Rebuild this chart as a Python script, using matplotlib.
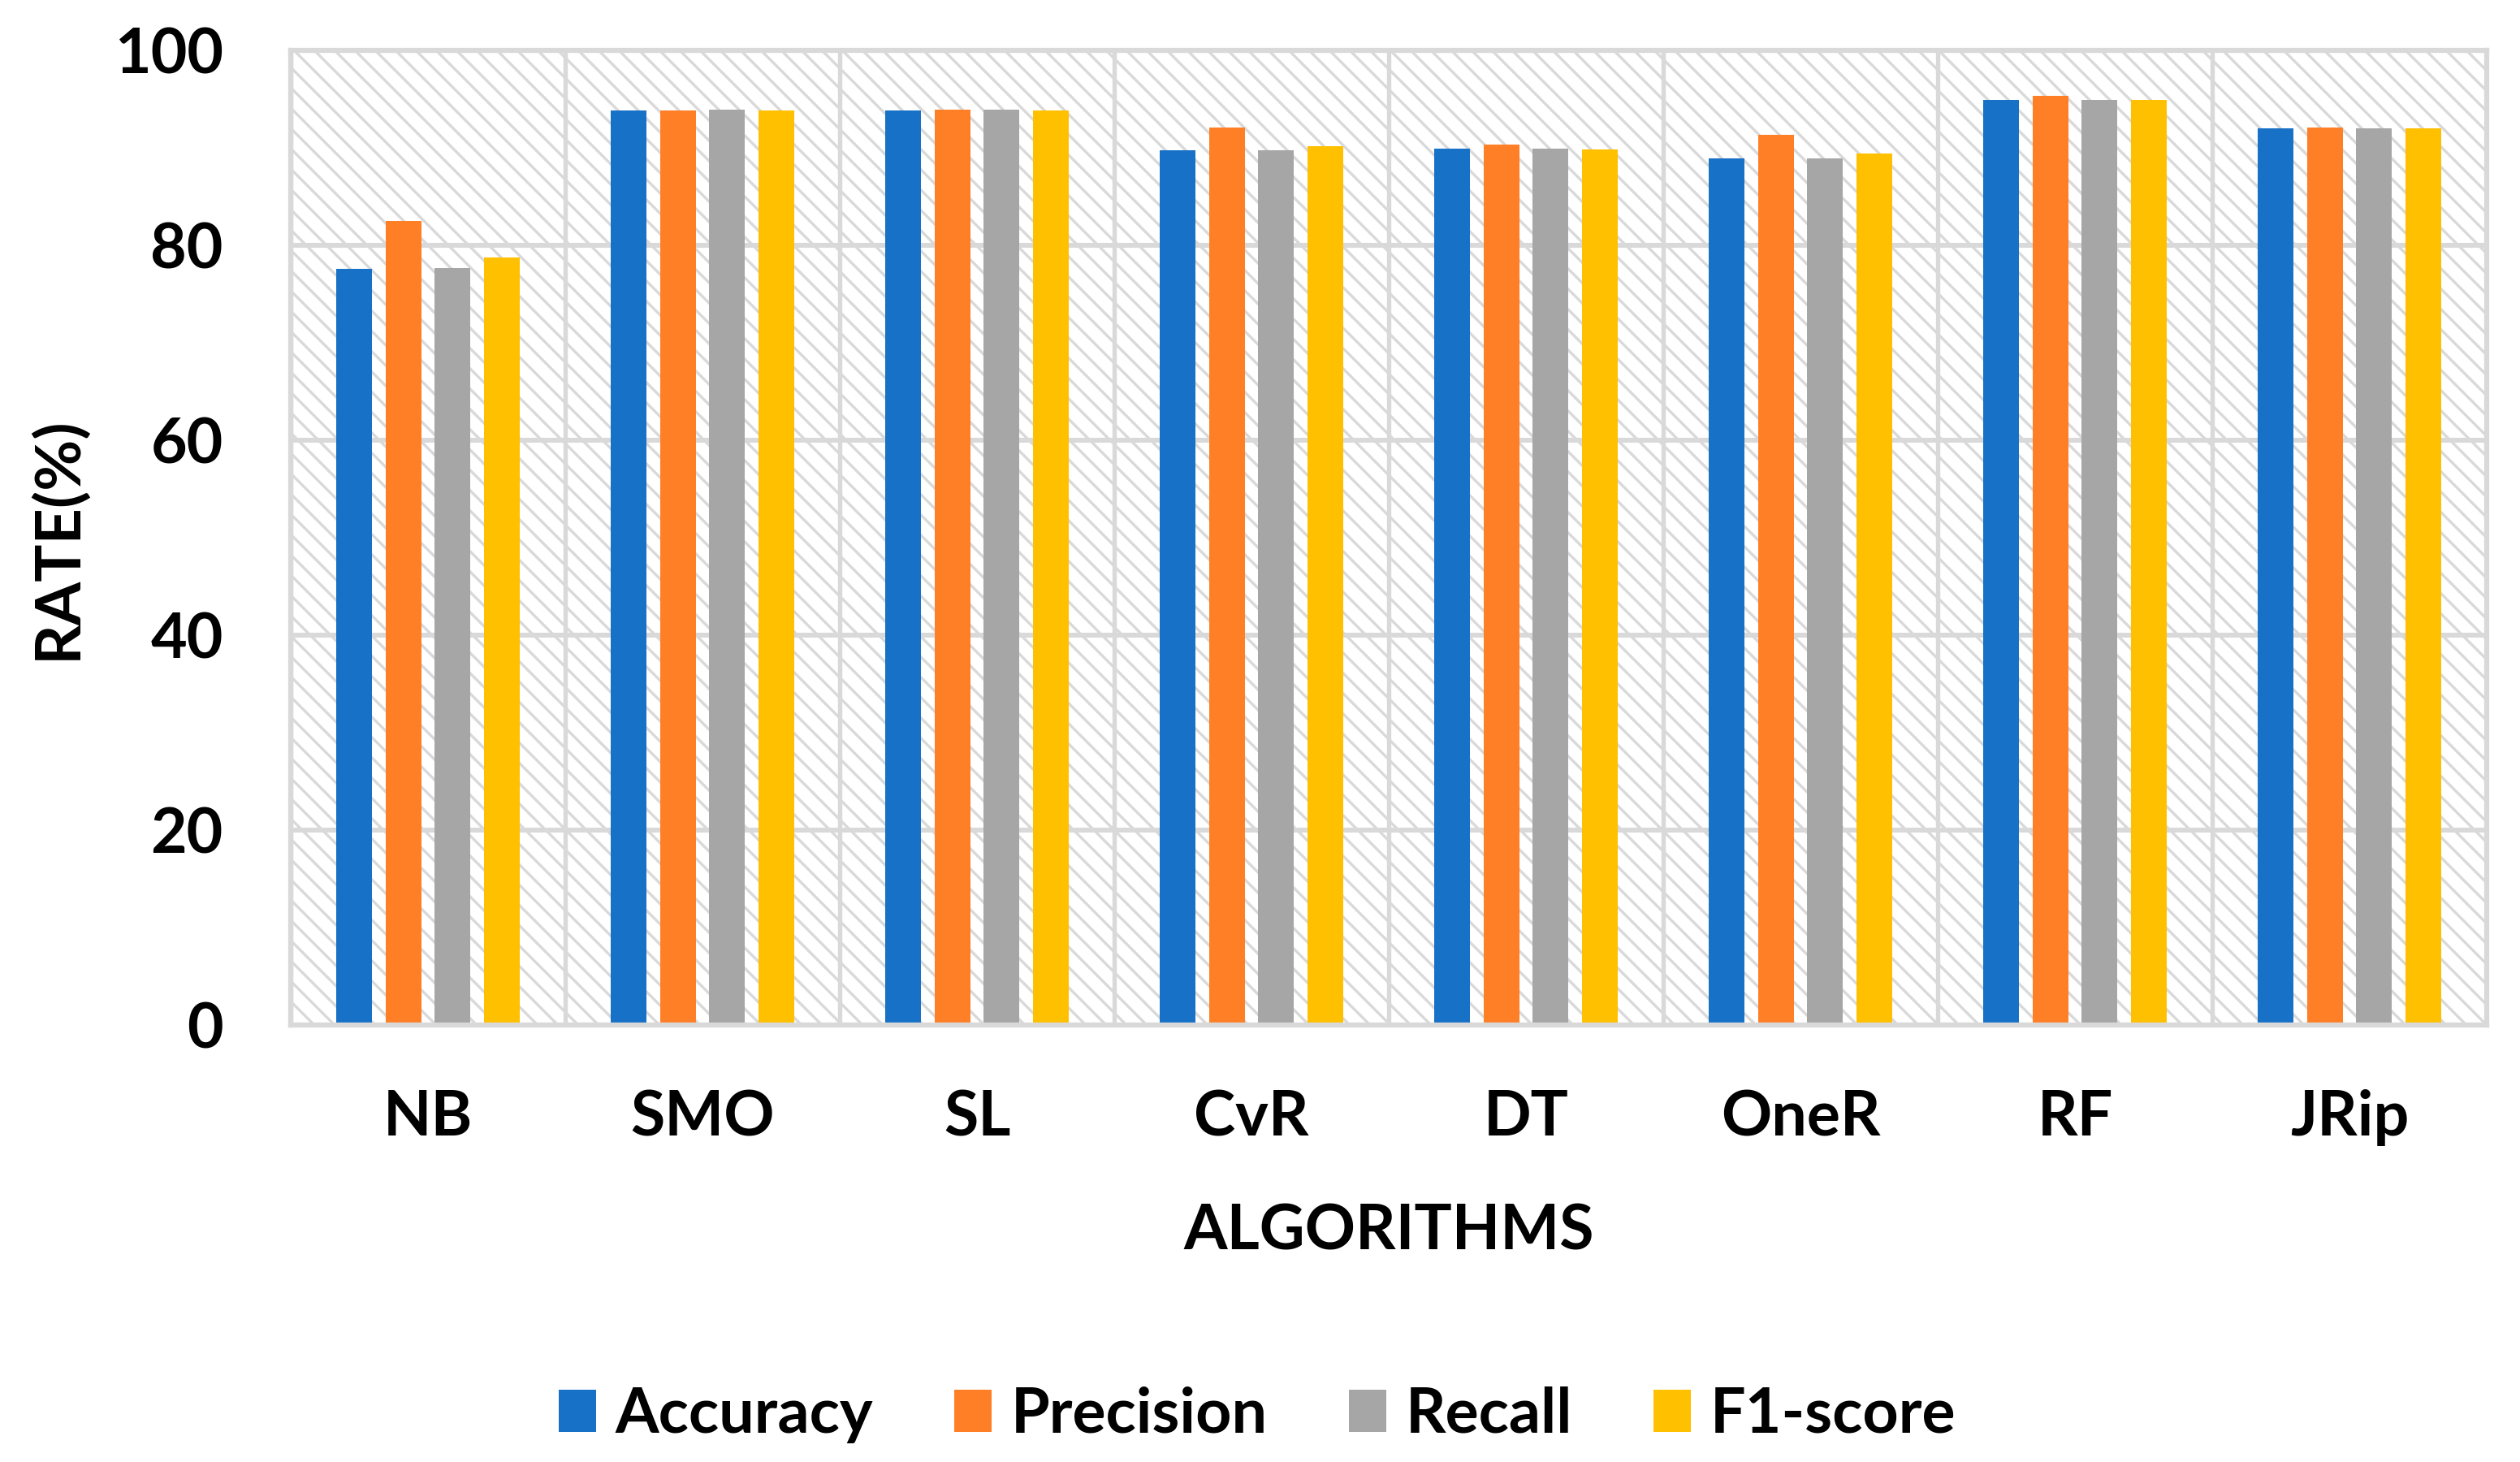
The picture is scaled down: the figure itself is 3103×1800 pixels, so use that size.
import numpy as np
import matplotlib
matplotlib.use("Agg")
import matplotlib.pyplot as plt
from matplotlib.patches import Rectangle

algorithms = ["NB", "SMO", "SL", "CvR", "DT", "OneR", "RF", "JRip"]
accuracy = [77.6, 93.8, 93.8, 89.75, 89.9, 88.9, 94.9, 92.0]
precision = [82.5, 93.8, 93.9, 92.1, 90.3, 91.3, 95.3, 92.1]
recall = [77.7, 93.9, 93.9, 89.75, 89.9, 88.9, 94.9, 92.0]
f1_score = [78.75, 93.8, 93.8, 90.2, 89.8, 89.4, 94.9, 92.0]
series_names = ["Accuracy", "Precision", "Recall", "F1-score"]
colors = ["#1771C7", "#FF7F27", "#A6A6A6", "#FFC000"]
y_ticks = [0, 20, 40, 60, 80, 100]

grid_gray = "#D9D9D9"
plt.rcParams["font.family"] = ["Lato", "DejaVu Sans"]
plt.rcParams["font.weight"] = "bold"
plt.rcParams["hatch.color"] = grid_gray
plt.rcParams["hatch.linewidth"] = 1.6

dpi = 150
fig = plt.figure(figsize=(3103 / dpi, 1800 / dpi), dpi=dpi)
ax = fig.add_axes([358 / 3103, 1 - 1262 / 1800, (3062 - 358) / 3103, 1200 / 1800])

# hatched plot background
ax.add_patch(Rectangle((0, 0), 1, 1, transform=ax.transAxes, facecolor="white",
                       edgecolor=grid_gray, hatch="\\\\", lw=0, zorder=0))

x = np.arange(len(algorithms))
width = 0.13
pitch = 0.18
data = [accuracy, precision, recall, f1_score]
for i, (vals, name, c) in enumerate(zip(data, series_names, colors)):
    ax.bar(x + (i - 1.5) * pitch, vals, width, color=c, label=name, zorder=3)

ax.set_xlim(-0.5, len(algorithms) - 0.5)
ax.set_ylim(0, 100)
ax.set_yticks(y_ticks)
ax.set_xticks(x)
ax.set_xticklabels(algorithms)
ax.set_xticks(np.arange(-0.5, len(algorithms), 1.0), minor=True)
ax.tick_params(axis="both", which="both", length=0, labelsize=37)
ax.tick_params(axis="y", pad=40)
ax.tick_params(axis="x", pad=38)
ax.grid(axis="y", which="major", color=grid_gray, lw=2.9, zorder=1)
ax.grid(axis="x", which="minor", color=grid_gray, lw=2.6, zorder=1)
ax.grid(axis="x", which="major", visible=False)
for s in ax.spines.values():
    s.set_color(grid_gray)
    s.set_linewidth(3)
    s.set_zorder(4)

ax.set_ylabel("RATE(%)", fontsize=37, fontweight="bold", va="center")
ax.yaxis.set_label_coords(-0.1065, 0.5)
ax.set_xlabel("ALGORITHMS", fontsize=37, fontweight="bold", va="center")
ax.xaxis.set_label_coords(0.5, -0.212)

leg = fig.legend(loc="center", bbox_to_anchor=(1548 / 3103, 1 - 1742 / 1800), ncol=4,
                 frameon=False, fontsize=37, handlelength=0.6, handleheight=0.65,
                 handletextpad=0.3, columnspacing=1.3)

fig.savefig("out.png", dpi=dpi)
